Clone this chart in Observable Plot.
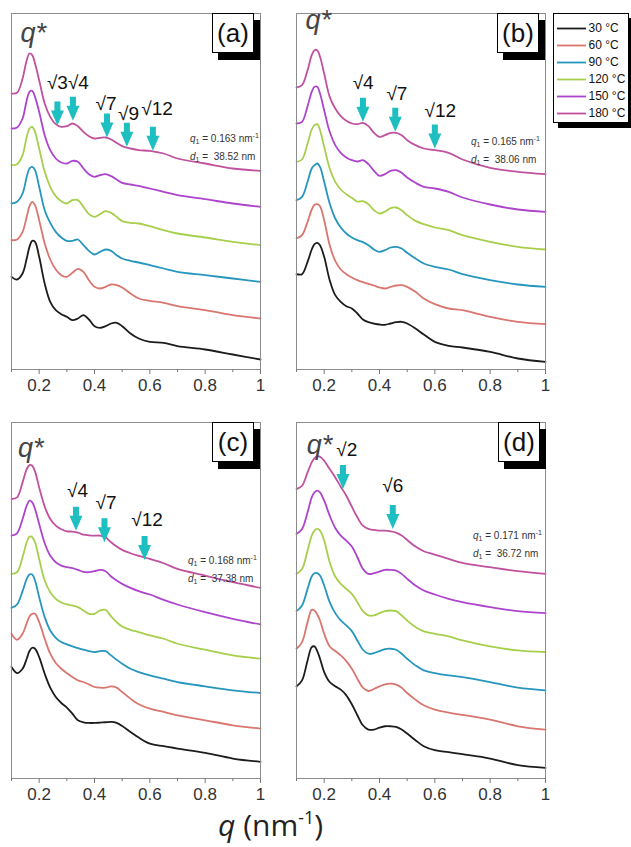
<!DOCTYPE html>
<html>
<head>
<meta charset="utf-8">
<script src="https://cdn.jsdelivr.net/npm/d3@7"></script>
<script src="https://cdn.jsdelivr.net/npm/@observablehq/plot@0.6"></script>
<style>
  html, body { margin: 0; padding: 0; background: #fff; }
  #root { position: relative; width: 631px; height: 847px; overflow: hidden; font-family: "Liberation Sans", Arial, sans-serif; }
  .abs { position: absolute; }
  .tag { position: absolute; background: #fff; border: 1px solid #000; box-shadow: 6px 7px 0 #000; box-sizing: border-box;
         font: 26px "Liberation Sans", Arial, sans-serif; color: #111; display: flex; align-items: center; justify-content: center; }
  .info { position: absolute; font: 10px "Liberation Sans", Arial, sans-serif; color: #333; line-height: 15px; white-space: nowrap; }
  .info sub, .info sup { font-size: 7px; }
  .info sub { vertical-align: -2px; }
  .info sup { vertical-align: 4px; }
  .legbox { position: absolute; background: #fff; border: 1px solid #000; box-shadow: 5px 5px 0 #000; box-sizing: border-box; }
  #xtitle { position: absolute; font: 30px "Open Sans", sans-serif; color: #222; white-space: nowrap; line-height: 36px; }
  #xtitle sup { font-size: 18px; vertical-align: 12px; line-height: 0; }
</style>
</head>
<body>
<div id="root"></div>
<script>
// ---------- data ----------
const temps = [30, 60, 90, 120, 150, 180];
const tempColors = ["#1c1c1c", "#d9766f", "#2696bd", "#a7cf4b", "#ad45cc", "#c0519e"];
const majorTicks = [0.2, 0.4, 0.6, 0.8, 1];
const minorTicks = [0.1, 0.3, 0.5, 0.7, 0.9];
const panelTags = ["(a)", "(b)", "(c)", "(d)"];
const q1Values = ["0.163", "0.165", "0.168", "0.171"];
const d1Values = ["38.52", "38.06", "37.38", "36.72"];

// scattering vector q (nm^-1), shared grid
const qGrid = [0.10,0.12,0.14,0.155,0.165,0.175,0.185,0.20,0.22,0.24,0.26,0.28,0.30,0.32,0.34,0.36,0.38,0.40,0.42,0.44,0.46,0.48,0.50,0.53,0.56,0.60,0.65,0.70,0.80,0.90,1.00];

// intensity (a.u., vertically offset) — panel (a)
const a30  = [278,270,288,333,368,386,383,338,258,203,178,166,158,148,153,163,150,130,125,130,138,140,130,108,93,83,80,70,60,45,30];
const a60  = [388,390,413,458,490,503,493,448,378,330,300,283,278,290,302,293,268,248,243,248,255,253,246,228,213,206,200,190,178,163,153];
const a90  = [498,503,528,578,603,608,598,548,478,440,413,396,386,386,390,373,356,345,353,360,356,343,333,326,321,313,303,293,283,273,263];
const a120 = [613,616,643,698,723,728,713,663,593,548,520,505,498,508,508,488,466,458,466,475,470,458,445,440,438,430,418,408,396,383,373];
const a150 = [723,726,753,808,833,836,818,773,703,658,633,621,618,626,623,603,586,578,583,586,580,570,560,555,551,543,533,523,511,498,488];
const a180 = [828,830,873,928,948,943,918,868,798,758,736,728,730,738,730,713,700,693,695,696,690,680,670,663,658,656,648,633,618,603,596];
// panel (b)
const b30  = [286,286,323,360,376,380,373,338,268,223,203,190,183,168,150,142,138,135,134,138,142,143,138,123,105,83,71,66,53,33,23];
const b60  = [393,403,443,480,494,496,490,448,373,326,300,286,276,268,262,257,252,246,243,248,252,253,248,233,213,196,183,178,158,143,136];
const b90  = [508,518,563,603,613,618,608,563,498,453,426,408,396,388,382,373,360,353,358,366,368,363,350,333,318,308,300,286,268,255,248];
const b120 = [623,630,678,720,733,736,718,668,603,563,540,526,515,504,505,496,478,468,474,484,486,478,463,446,436,426,418,403,383,368,360];
const b150 = [738,743,790,833,848,848,828,778,713,673,650,636,628,624,628,616,596,581,586,596,598,590,576,560,548,543,533,516,495,480,473];
const b180 = [846,853,898,943,958,958,938,888,818,783,760,746,738,736,740,730,710,698,703,710,710,703,688,673,663,658,650,630,605,593,586];
// panel (c)
const c30  = [335,317,330,360,383,393,390,365,315,273,245,227,213,195,175,169,167,167,168,169,170,167,158,140,123,105,97,90,77,60,50];
const c60  = [435,417,435,467,487,495,495,470,420,375,347,330,317,305,295,290,283,275,273,273,277,273,260,240,223,210,200,190,175,160,150];
const c90  = [513,523,563,600,613,613,595,545,485,445,423,410,403,397,392,387,383,380,383,383,370,357,345,330,320,310,300,290,277,265,257];
const c120 = [615,620,665,710,727,725,710,660,595,560,540,529,523,520,515,505,495,495,505,507,487,470,457,447,440,430,420,405,387,370,360];
const c150 = [730,737,780,820,835,830,810,765,707,670,650,640,635,632,627,621,620,623,627,623,607,595,585,573,563,553,537,523,500,480,463];
const c180 = [840,845,890,930,942,940,923,875,817,780,760,749,743,742,739,733,731,730,730,725,710,697,687,677,669,660,647,630,610,590,573];
// panel (d)
const d30  = [277,295,355,395,397,383,360,320,290,277,267,250,223,190,160,147,147,153,157,157,155,147,135,115,97,85,79,73,60,40,32];
const d60  = [390,410,470,507,505,493,475,435,397,383,370,353,330,300,273,263,269,277,283,285,282,273,257,237,220,207,198,191,177,157,147];
const d90  = [503,520,570,607,617,617,610,580,530,497,475,460,443,415,387,375,377,383,389,390,387,375,360,340,325,317,310,305,290,273,265];
const d120 = [615,630,685,730,745,750,745,715,650,607,585,570,555,530,503,490,490,497,503,505,503,490,475,455,442,435,427,415,397,385,380];
const d150 = [735,750,800,845,860,865,860,835,790,753,730,715,697,665,630,615,617,622,627,627,625,615,600,580,565,553,540,530,515,503,497];
const d180 = [870,880,920,950,963,969,967,955,930,905,877,850,817,785,760,750,747,745,745,743,739,730,717,697,683,673,660,648,635,623,615];

// peak-indexing arrows: q position, intensity at tip
const arrowsA = {q: [0.266, 0.322, 0.445, 0.517, 0.611], tip: [732, 746, 696, 668, 656]};
const arrowsB = {q: [0.340, 0.457, 0.600], tip: [743, 713, 663]};
const arrowsC = {q: [0.333, 0.436, 0.581], tip: [745, 710, 657]};
const arrowsD = {q: [0.268, 0.448], tip: [870, 750]};
// arrow labels: text, q, intensity of baseline
const labelsA = {text: ["√3√4", "√7", "√9", "√12"], q: [0.304, 0.442, 0.523, 0.626], at: [842, 778, 750, 763]};
const labelsB = {text: ["√4", "√7", "√12"], q: [0.341, 0.463, 0.620], at: [843, 808, 758]};
const labelsC = {text: ["√4", "√7", "√12"], q: [0.339, 0.442, 0.590], at: [845, 810, 760]};
const labelsD = {text: ["√2", "√6"], q: [0.282, 0.448], at: [970, 860]};
// primary peak label q*
const qStarQ  = [0.179, 0.179, 0.170, 0.183];
const qStarAt = [983, 1023, 965, 975];

// ---------- build ----------
const root = document.getElementById("root");
const seriesByPanel = [
  [a30, a60, a90, a120, a150, a180],
  [b30, b60, b90, b120, b150, b180],
  [c30, c60, c90, c120, c150, c180],
  [d30, d60, d90, d120, d150, d180]
];
const arrowSets = [arrowsA, arrowsB, arrowsC, arrowsD];
const labelSets = [labelsA, labelsB, labelsC, labelsD];
const yMaxes = [1068, 1068, 1070, 1070];
const origins = [[0, 0], [285, 0], [0, 409], [285, 409]];

const arrowShape = {
  draw(ctx, l) {
    const hl = 15, hw = 6.5, sw = 3;
    ctx.moveTo(-sw, 0);
    ctx.lineTo(-sw, -(l - hl));
    ctx.lineTo(-hw, -(l - hl));
    ctx.lineTo(0, -l);
    ctx.lineTo(hw, -(l - hl));
    ctx.lineTo(sw, -(l - hl));
    ctx.lineTo(sw, 0);
    ctx.closePath();
  }
};

const FONT = "'Liberation Sans', Arial, sans-serif";

seriesByPanel.forEach((series, p) => {
  const rows = [];
  series.forEach((vals, k) => vals.forEach((v, i) => rows.push({q: qGrid[i], I: v, T: temps[k]})));
  const ar = arrowSets[p].q.map((q, i) => ({q, I: arrowSets[p].tip[i]}));
  const lb = labelSets[p].q.map((q, i) => ({q, I: labelSets[p].at[i], t: labelSets[p].text[i]}));
  const qs = [{q: qStarQ[p], I: qStarAt[p]}];

  const chart = Plot.plot({
    width: 275, height: 400,
    marginLeft: 11, marginRight: 15, marginTop: 13, marginBottom: 31,
    x: {domain: [0.1, 1], label: null},
    y: {domain: [0, yMaxes[p]], axis: null},
    color: {type: "ordinal", domain: temps, range: tempColors},
    style: {background: "transparent", overflow: "visible", fontFamily: FONT},
    marks: [
      Plot.line(rows, {x: "q", y: "I", z: "T", stroke: "T", strokeWidth: 1.8, curve: "catmull-rom"}),
      Plot.frame({stroke: "#8c8c8c", strokeWidth: 1}),
      Plot.axisX(minorTicks, {tickSize: 3, tickFormat: () => "", stroke: "#777", label: null}),
      Plot.axisX(majorTicks, {tickSize: 5, tickPadding: 4, tickFormat: d3.format("~g"), stroke: "#777", fill: "#333", fontSize: 17, label: null}),
      Plot.vector(ar, {x: "q", y: "I", length: 24, rotate: 180, anchor: "end", shape: arrowShape, fill: "#1dbfc0", stroke: "none"}),
      Plot.text(lb, {x: "q", y: "I", text: "t", lineAnchor: "bottom", fontSize: 19, fill: "#111"}),
      Plot.text(qs, {x: "q", y: "I", text: () => "q*", lineAnchor: "bottom", fontSize: 27, fontStyle: "italic", fill: "#444"})
    ]
  });
  chart.classList.add("abs");
  chart.style.left = origins[p][0] + "px";
  chart.style.top = origins[p][1] + "px";
  root.appendChild(chart);
});

// panel tags
const tagPos = [[212, 13], [497, 13], [212, 422], [498, 422]];
panelTags.forEach((t, p) => {
  const d = document.createElement("div");
  d.className = "tag";
  d.style.left = tagPos[p][0] + "px";
  d.style.top = tagPos[p][1] + "px";
  d.style.width = "42px";
  d.style.height = "40px";
  d.textContent = t;
  root.appendChild(d);
});

// q1 / d1 annotations
const infoPos = [[190, 128], [471, 131], [188, 550], [473, 525]];
q1Values.forEach((v, p) => {
  const d = document.createElement("div");
  d.className = "info";
  d.style.left = infoPos[p][0] + "px";
  d.style.top = infoPos[p][1] + "px";
  d.innerHTML = `<i>q</i><sub>1</sub> = ${v} nm<sup>-1</sup><br><i>d</i><sub>1</sub> =&nbsp; ${d1Values[p]} nm`;
  root.appendChild(d);
});

// legend
const box = document.createElement("div");
box.className = "legbox";
box.style.left = "553px"; box.style.top = "13px"; box.style.width = "76px"; box.style.height = "110px";
root.appendChild(box);
const legend = Plot.plot({
  width: 76, height: 110,
  marginLeft: 4, marginRight: 43, marginTop: 14, marginBottom: 10,
  x: {axis: null, domain: [0, 1]},
  y: {type: "point", domain: temps, padding: 0, axis: null},
  color: {type: "ordinal", domain: temps, range: tempColors},
  style: {background: "transparent", overflow: "visible", fontFamily: FONT},
  marks: [
    Plot.ruleY(temps, {y: d => d, stroke: d => d, strokeWidth: 1.8}),
    Plot.text(temps, {y: d => d, text: d => `${d} °C`, frameAnchor: "right", textAnchor: "start", dx: 2, fontSize: 12, fill: "#111"})
  ]
});
legend.classList.add("abs");
legend.style.left = "553px"; legend.style.top = "13px";
root.appendChild(legend);

// x axis title
const xt = document.createElement("div");
xt.id = "xtitle";
xt.style.left = "218px"; xt.style.top = "807px";
xt.innerHTML = `<i>q</i> (nm<sup>-1</sup>)`;
root.appendChild(xt);
</script>
</body>
</html>
